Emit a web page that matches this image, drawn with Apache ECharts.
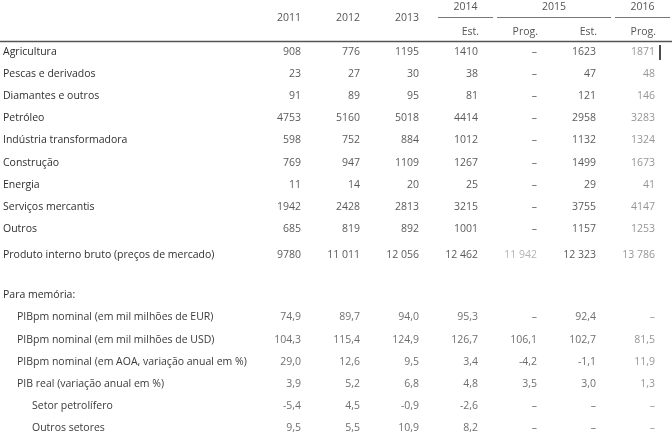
<!DOCTYPE html>
<html>
<head>
<meta charset="utf-8">
<script src="https://cdn.jsdelivr.net/npm/echarts@6/dist/echarts.min.js"></script>
<style>
  html, body { margin: 0; padding: 0; background: #fff; }
  #chart { width: 672px; height: 440px; }
</style>
</head>
<body>
<div id="chart"></div>
<script>
// row labels
const sectors = [
  'Agricultura', 'Pescas e derivados', 'Diamantes e outros', 'Petróleo',
  'Indústria transformadora', 'Construção', 'Energia', 'Serviços mercantis',
  'Outros', 'Produto interno bruto (preços de mercado)'
]
const memoTitle = 'Para memória:'
const memoRows = [
  'PIBpm nominal (em mil milhões de EUR)',
  'PIBpm nominal (em mil milhões de USD)',
  'PIBpm nominal (em AOA, variação anual em %)',
  'PIB real (variação anual em %)',
  'Setor petrolífero',
  'Outros setores'
]
const memoIndent = [1, 1, 1, 1, 2, 2]

// column headers
const years = ['2011', '2012', '2013', '2014', '2015', '2016']
const subHeaders = ['', '', '', 'Est.', 'Prog.', 'Est.', 'Prog.']
const yearOfColumn = [0, 1, 2, 3, 4, 4, 5]

// values per column: 10 sector rows, then 6 memo rows (null = –)
const v2011 = [908, 23, 91, 4753, 598, 769, 11, 1942, 685, 9780, 74.9, 104.3, 29.0, 3.9, -5.4, 9.5]
const v2012 = [776, 27, 89, 5160, 752, 947, 14, 2428, 819, 11011, 89.7, 115.4, 12.6, 5.2, 4.5, 5.5]
const v2013 = [1195, 30, 95, 5018, 884, 1109, 20, 2813, 892, 12056, 94.0, 124.9, 9.5, 6.8, -0.9, 10.9]
const v2014est = [1410, 38, 81, 4414, 1012, 1267, 25, 3215, 1001, 12462, 95.3, 126.7, 3.4, 4.8, -2.6, 8.2]
const v2015prog = [null, null, null, null, null, null, null, null, null, 11942, null, 106.1, -4.2, 3.5, null, null]
const v2015est = [1623, 47, 121, 2958, 1132, 1499, 29, 3755, 1157, 12323, 92.4, 102.7, -1.1, 3.0, null, null]
const v2016prog = [1871, 48, 146, 3283, 1324, 1673, 41, 4147, 1253, 13786, null, 81.5, 11.9, 1.3, null, null]

const columns = [v2011, v2012, v2013, v2014est, v2015prog, v2015est, v2016prog]
const rows = [...sectors, '', memoTitle, ...memoRows]
const totalRow = sectors.length - 1
const font = 'Open Sans'
const fontSize = 10.5

function fmt(v, memo) {
  if (v === null) return '–'
  if (memo) return v.toFixed(1).replace('.', ',')
  return v >= 10000 ? String(v).replace(/(\d)(\d{3})$/, '$1 $2') : String(v)
}

function rowOf(k) {
  // data index -> row in the category axis (skip blank + title)
  return k < sectors.length ? k : k + 2
}

function cellColor(col, k) {
  if (col === 6) return '#7a7a7a'
  if (col === 4 && k === totalRow) return '#a0a0a0'
  if (k >= sectors.length) return '#4a4a4a'
  return '#2f2f2f'
}

const chart = echarts.init(document.getElementById('chart'))

const series = columns.map((vals, col) => ({
  type: 'scatter',
  symbolSize: 0,
  silent: true,
  data: vals.map((v, k) => ({
    value: [col, rowOf(k)],
    label: {
      formatter: fmt(v, k >= sectors.length),
      color: cellColor(col, k),
      offset: [0, k === totalRow ? 4 : 0]
    }
  })),
  label: {
    show: true,
    position: 'left',
    distance: 0,
    fontFamily: font,
    fontSize
  }
}))

chart.setOption({
  animation: false,
  grid: { left: 301, right: 17, top: 52, bottom: 12 },
  xAxis: {
    type: 'category',
    boundaryGap: false,
    data: subHeaders,
    show: false
  },
  yAxis: {
    type: 'category',
    inverse: true,
    boundaryGap: false,
    data: rows,
    axisLine: { show: false },
    axisTick: { show: false },
    splitLine: { show: false },
    axisLabel: {
      interval: 0,
      align: 'left',
      margin: 298,
      fontFamily: font,
      fontSize,
      color: '#2f2f2f',
      formatter: (value, i) => {
        if (i === totalRow) return '{t|' + value + '}'
        const m = i - sectors.length - 2
        if (m >= 0) return '{i' + memoIndent[m] + '|' + value + '}'
        return value
      },
      rich: {
        t: { padding: [8, 0, 0, 0], fontFamily: font, fontSize, color: '#2f2f2f' },
        i1: { padding: [0, 0, 0, 14], fontFamily: font, fontSize, color: '#3a3a3a' },
        i2: { padding: [0, 0, 0, 29], fontFamily: font, fontSize, color: '#3a3a3a' }
      }
    }
  },
  series
})

// header built from column positions on the x axis
const colX = subHeaders.map((s, i) => chart.convertToPixel({ xAxisIndex: 0 }, i))
const firstRowY = chart.convertToPixel({ yAxisIndex: 0 }, 0)
const headFont = fontSize + 'px "Open Sans"'
const graphic = []
years.forEach((y, yi) => {
  const cols = yearOfColumn.map((c, i) => (c === yi ? i : -1)).filter(i => i >= 0)
  const x0 = colX[cols[0]]
  const x1 = colX[cols[cols.length - 1]]
  if (!subHeaders[cols[0]]) {
    graphic.push({
      type: 'text', x: x0, y: 18,
      style: { text: y, align: 'right', verticalAlign: 'middle', fill: '#555', font: headFont }
    })
    return
  }
  const a = x0 - 40
  const b = Math.min(x1 + 15, 672)
  graphic.push({
    type: 'line', shape: { x1: a, y1: 17.5, x2: b, y2: 17.5 },
    style: { stroke: '#777', lineWidth: 1 }
  })
  graphic.push({
    type: 'text', x: (a + b) / 2, y: 7,
    style: { text: y, align: 'center', verticalAlign: 'middle', fill: '#555', font: headFont }
  })
  cols.forEach(i => {
    graphic.push({
      type: 'text', x: colX[i] + 1, y: 32,
      style: { text: subHeaders[i], align: 'right', verticalAlign: 'middle', fill: '#555', font: headFont }
    })
  })
})
graphic.push({
  type: 'line', shape: { x1: 0, y1: 41.5, x2: 672, y2: 41.5 },
  style: { stroke: '#555', lineWidth: 1.5 }
})
// text cursor left after the first 2016 value
graphic.push({
  type: 'line', shape: { x1: colX[6] + 5, y1: firstRowY - 7, x2: colX[6] + 5, y2: firstRowY + 8 },
  style: { stroke: '#111', lineWidth: 1.5 }
})
chart.setOption({ graphic })
</script>
</body>
</html>
